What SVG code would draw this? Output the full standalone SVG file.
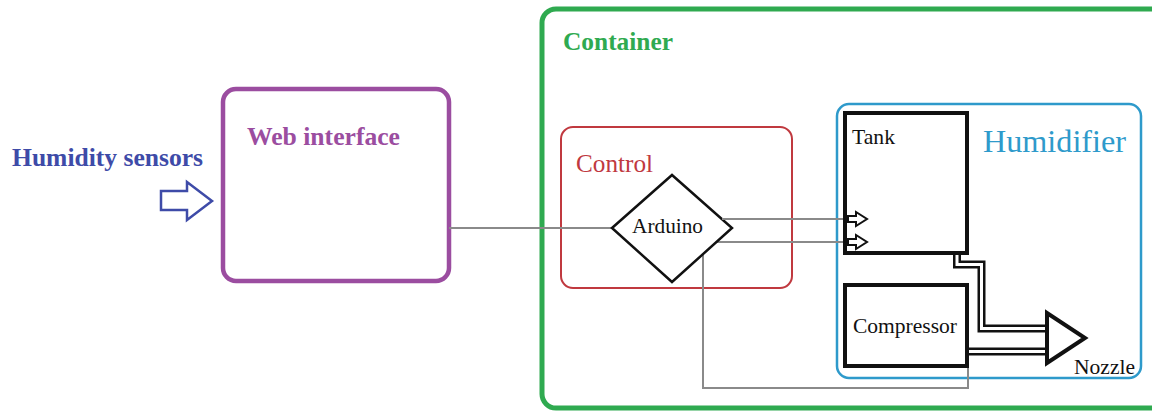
<svg xmlns="http://www.w3.org/2000/svg" width="1152" height="412" viewBox="0 0 1152 412">
<style>
text{font-family:'Liberation Serif','DejaVu Serif',serif}
.b{font-weight:bold}
.wire{fill:none;stroke:#8a8a8a;stroke-width:2}
.pipeo{fill:none;stroke:#111;stroke-width:8;stroke-linejoin:miter}
.pipei{fill:none;stroke:#fff;stroke-width:3;stroke-linejoin:miter}
.blk{fill:#fff;stroke:#111;stroke-width:4}
.harrow{fill:#fff;stroke:#111;stroke-width:2;stroke-linejoin:miter}
</style>
<rect width="1152" height="412" fill="#fff"/>

<g id="container">
<rect x="542" y="9" width="625" height="399" rx="14" fill="none" stroke="#2faa50" stroke-width="5"/>
<text x="563" y="50" font-family="'Liberation Serif',serif" class="b" font-size="25" fill="#2faa50" textLength="110" lengthAdjust="spacingAndGlyphs">Container</text>
</g>

<g id="humidity-sensors">
<text x="12" y="166" font-family="'Liberation Serif',serif" class="b" font-size="26" fill="#3e4ba8" textLength="191" lengthAdjust="spacingAndGlyphs">Humidity sensors</text>
<path d="M161 191 H187 V182 L212 201 L187 220 V210 H161 Z" fill="#fff" stroke="#3e4ba8" stroke-width="2.5" stroke-linejoin="miter"/>
</g>

<g id="web-interface">
<rect x="223" y="89" width="226" height="192" rx="13" fill="#fff" stroke="#9b4da0" stroke-width="4.5"/>
<text x="247" y="145" font-family="'Liberation Serif',serif" class="b" font-size="26" fill="#9b4da0" textLength="153" lengthAdjust="spacingAndGlyphs">Web interface</text>
</g>

<g id="control">
<rect x="561" y="127" width="231" height="161" rx="12" fill="none" stroke="#c0393f" stroke-width="2"/>
<text x="576" y="172" font-family="'Liberation Serif',serif" font-size="26" fill="#c0393f" textLength="77" lengthAdjust="spacingAndGlyphs">Control</text>
</g>

<g id="humidifier">
<rect x="837" y="104" width="304" height="274" rx="12" fill="none" stroke="#2e9acb" stroke-width="2.5"/>
<text x="983" y="152" font-family="'Liberation Serif',serif" font-size="32" fill="#2e9acb" textLength="143" lengthAdjust="spacingAndGlyphs">Humidifier</text>
</g>

<g id="connectors">
<path class="wire" d="M449 228 H612"/>
<path class="wire" d="M722 219 H848"/>
<path class="wire" d="M716 242 H848"/>
<path class="wire" d="M703 254 V388 H968 V352"/>
<path class="pipeo" d="M957 253 V264.5 H981.5 V328.5 H1047"/>
<path class="pipei" d="M957 252 V264.5 H981.5 V328.5 H1048"/>
<path class="pipeo" d="M967 351.5 H1047"/>
<path class="pipei" d="M966 351.5 H1048"/>
<path class="harrow" d="M848 216 H856 V212 L867 219 L856 226 V222 H848 Z"/>
<path class="harrow" d="M848 239 H856 V235 L867 242 L856 249 V245 H848 Z"/>
</g>

<g id="arduino">
<path d="M612 228 L672 175 L732 228 L672 282 Z" fill="#fff" stroke="#111" stroke-width="2.5" stroke-linejoin="miter"/>
<path class="wire" d="M722 219 H733"/>
<text x="632" y="233" font-family="'Liberation Serif',serif" font-size="22" fill="#111" textLength="71" lengthAdjust="spacingAndGlyphs">Arduino</text>
</g>

<g id="tank">
<rect x="845" y="113" width="122" height="140" fill="none" stroke="#111" stroke-width="4"/>
<text x="852" y="144" font-family="'Liberation Serif',serif" font-size="21" fill="#111" textLength="43" lengthAdjust="spacingAndGlyphs">Tank</text>
</g>

<g id="compressor">
<rect x="845" y="285" width="122" height="81" class="blk"/>
<text x="853" y="333" font-family="'Liberation Serif',serif" font-size="22" fill="#111" textLength="104" lengthAdjust="spacingAndGlyphs">Compressor</text>
</g>

<g id="nozzle">
<path d="M1047 313 V363 L1085 338 Z" fill="#fff" stroke="#111" stroke-width="4" stroke-linejoin="miter"/>
<text x="1074" y="374" font-family="'Liberation Serif',serif" font-size="21" fill="#111" textLength="61" lengthAdjust="spacingAndGlyphs">Nozzle</text>
</g>
</svg>
